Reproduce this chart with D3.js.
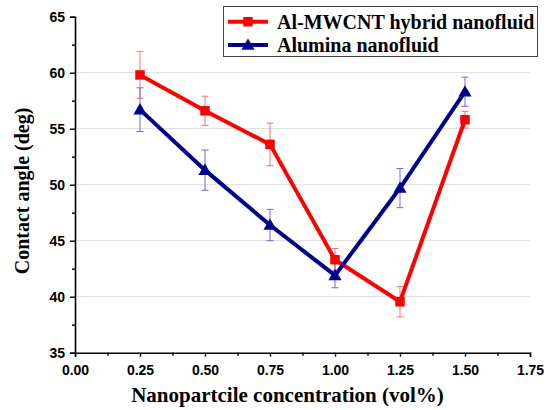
<!DOCTYPE html>
<html>
<head>
<meta charset="utf-8">
<script src="https://cdn.jsdelivr.net/npm/d3@7"></script>
<style>
  html, body { margin: 0; padding: 0; background: #fff; }
  svg { display: block; }
</style>
</head>
<body>
<svg id="chart" width="552" height="410"></svg>
<script>
// Concentrations (vol%) and measured contact angles with error margins
const concentrations = [0.25, 0.50, 0.75, 1.00, 1.25, 1.50];
const hybridAngle = [59.8, 56.6, 53.6, 43.3, 39.55, 55.8];
const hybridError = [2.1, 1.3, 1.9, 1.0, 1.35, 0.75];
const aluminaAngle = [56.7, 51.3, 46.4, 41.9, 49.7, 58.3];
const aluminaError = [1.95, 1.8, 1.4, 1.1, 1.75, 1.3];
const seriesNames = ["Al-MWCNT hybrid nanofluid", "Alumina nanofluid"];
const xTicks = [0, 0.25, 0.5, 0.75, 1.0, 1.25, 1.5, 1.75];
const yTicks = [35, 40, 45, 50, 55, 60, 65];

const svg = d3.select("#chart");
const plotLeft = 75, plotRight = 530, plotTop = 16.7, plotBottom = 352.7;

const x = d3.scaleLinear().domain([0, 1.75]).range([plotLeft, plotRight]);
const y = d3.scaleLinear().domain([35, 65]).range([plotBottom, plotTop]);

// horizontal grid lines
svg.append("g").selectAll("line")
  .data(yTicks.filter(v => v > 35 && v < 65))
  .join("line")
  .attr("x1", plotLeft).attr("x2", plotRight)
  .attr("y1", d => y(d)).attr("y2", d => y(d))
  .attr("stroke", "#dcdcdc").attr("stroke-width", 1);

const tickFont = "'Liberation Sans', Arial, sans-serif";
const serifFont = "'Liberation Serif', 'Times New Roman', serif";

// x axis with minor ticks
const xAxis = d3.axisBottom(x).tickValues(xTicks).tickFormat(d3.format(".2f"))
  .tickSizeOuter(0).tickSize(4).tickPadding(8);
const xMinor = d3.axisBottom(x).tickValues(xTicks.slice(0, -1).map(v => v + 0.125))
  .tickFormat("").tickSizeOuter(0).tickSize(3);
const gx = svg.append("g").attr("transform", `translate(0,${plotBottom})`).call(xAxis);
svg.append("g").attr("transform", `translate(0,${plotBottom})`).call(xMinor).select(".domain").remove();
gx.selectAll("text").attr("font-family", tickFont).attr("font-weight", "bold")
  .attr("font-size", 14).attr("fill", "#000");

// y axis with minor ticks
const yAxis = d3.axisLeft(y).tickValues(yTicks).tickFormat(d3.format("d"))
  .tickSizeOuter(0).tickSize(5).tickPadding(5);
const yMinor = d3.axisLeft(y).tickValues(yTicks.slice(0, -1).map(v => v + 2.5))
  .tickFormat("").tickSizeOuter(0).tickSize(3);
const gy = svg.append("g").attr("transform", `translate(${plotLeft},0)`).call(yAxis);
svg.append("g").attr("transform", `translate(${plotLeft},0)`).call(yMinor).select(".domain").remove();
gy.selectAll("text").attr("font-family", tickFont).attr("font-weight", "bold")
  .attr("font-size", 14).attr("fill", "#000");

svg.selectAll(".domain").attr("stroke", "#000").attr("stroke-width", 1.6);
svg.selectAll(".tick line").attr("stroke", "#000").attr("stroke-width", 1.4);

// axis titles
svg.append("text")
  .attr("x", 287.5).attr("y", 401.5)
  .attr("text-anchor", "middle")
  .attr("font-family", serifFont).attr("font-weight", "bold").attr("font-size", 21)
  .text("Nanopartcile concentration (vol%)");
svg.append("text")
  .attr("transform", "translate(29,191) rotate(-90)")
  .attr("text-anchor", "middle")
  .attr("font-family", serifFont).attr("font-weight", "bold").attr("font-size", 20)
  .text("Contact angle (deg)");

const series = [
  { name: seriesNames[0], vals: hybridAngle, errs: hybridError, color: "#ff0000", errColor: "#ff7070", shape: "square" },
  { name: seriesNames[1], vals: aluminaAngle, errs: aluminaError, color: "#00008f", errColor: "#6a6ae0", shape: "triangle" }
];

const squareSym = d3.symbol().type(d3.symbolSquare).size(90);
const triSym = d3.symbol().type(d3.symbolTriangle).size(75);

const line = d3.line().x(d => x(d[0])).y(d => y(d[1]));

// error bars
series.forEach(s => {
  const g = svg.append("g");
  concentrations.forEach((c, i) => {
    const cx = x(c), hi = y(s.vals[i] + s.errs[i]), lo = y(s.vals[i] - s.errs[i]);
    g.append("line").attr("x1", cx).attr("x2", cx).attr("y1", hi).attr("y2", lo)
      .attr("stroke", s.errColor).attr("stroke-width", 1);
    [hi, lo].forEach(yy => g.append("line")
      .attr("x1", cx - 3.5).attr("x2", cx + 3.5).attr("y1", yy).attr("y2", yy)
      .attr("stroke", s.errColor).attr("stroke-width", 1));
  });
});

// lines and markers
series.forEach(s => {
  const pts = concentrations.map((c, i) => [c, s.vals[i]]);
  svg.append("path").datum(pts).attr("d", line)
    .attr("fill", "none").attr("stroke", s.color).attr("stroke-width", 4)
    .attr("stroke-linejoin", "miter");
  svg.append("g").selectAll("path").data(pts).join("path")
    .attr("transform", d => `translate(${x(d[0])},${y(d[1]) + (s.shape === "triangle" ? 1 : 0)})`)
    .attr("d", s.shape === "square" ? squareSym() : triSym())
    .attr("fill", s.color);
});

// legend
const lg = svg.append("g");
lg.append("rect").attr("x", 223.5).attr("y", 6.5).attr("width", 314).attr("height", 50)
  .attr("fill", "#fff").attr("stroke", "#444").attr("stroke-width", 1);
series.forEach((s, i) => {
  const yy = [21.7, 45][i];
  lg.append("line").attr("x1", 228).attr("x2", 268).attr("y1", yy).attr("y2", yy)
    .attr("stroke", s.color).attr("stroke-width", 4);
  lg.append("path").attr("transform", `translate(248,${yy + (s.shape === "triangle" ? 1 : 0)})`)
    .attr("d", s.shape === "square" ? squareSym() : triSym()).attr("fill", s.color);
  lg.append("text").attr("x", 277).attr("y", yy + 7)
    .attr("font-family", serifFont).attr("font-weight", "bold").attr("font-size", 20)
    .text(s.name);
});
</script>
</body>
</html>
